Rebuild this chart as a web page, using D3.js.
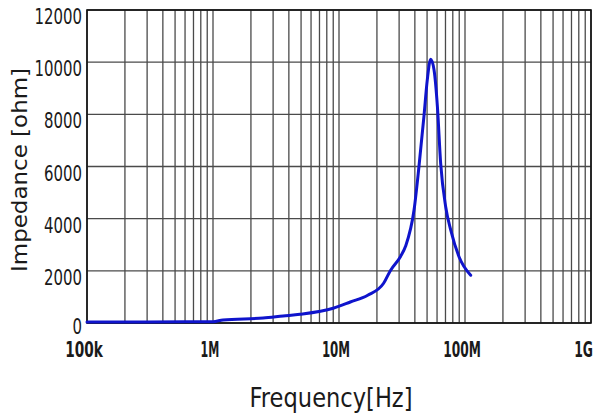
<!DOCTYPE html>
<html>
<head>
<meta charset="utf-8">
<script src="https://cdn.jsdelivr.net/npm/d3@7"></script>
<style>
  body { margin: 0; background: #fff; }
  svg { display: block; }
  .lbl { font-family: "DejaVu Sans", sans-serif; fill: #1a1a1a; }
</style>
</head>
<body>
<div id="chart"></div>
<script>
// frequency in Hz, impedance in ohm
const freqHz = [1e5, 3e5, 6e5, 1.0e6, 1.2e6, 2.5e6, 3.6e6, 4.9e6, 9.0e6, 12.3e6, 16.9e6, 22.6e6,
  25.7e6, 30.8e6, 33.8e6, 39.4e6, 43.1e6, 47.2e6, 50.2e6, 53.4e6, 56.8e6, 60.4e6, 64.1e6,
  70.3e6, 77.1e6, 89.8e6, 111e6];
const impedance = [40, 40, 45, 50, 115, 190, 270, 335, 565, 805, 1065, 1525,
  2025, 2550, 2950, 4330, 5990, 7910, 9320, 10115, 9700, 8290, 6120,
  4450, 3560, 2530, 1830];

const xTicks = [1e5, 1e6, 1e7, 1e8, 1e9];
const xTickLabels = ["100k", "1M", "10M", "100M", "1G"];
const yTicks = [0, 2000, 4000, 6000, 8000, 10000, 12000];

const width = 597, height = 414;
const margin = { top: 10, right: 6, bottom: 91, left: 87 };
const iw = width - margin.left - margin.right;
const ih = height - margin.top - margin.bottom;

const svg = d3.select("#chart").append("svg")
  .attr("width", width)
  .attr("height", height);

const g = svg.append("g")
  .attr("transform", `translate(${margin.left},${margin.top})`);

const x = d3.scaleLog().domain([1e5, 1e9]).range([0, iw]);
const y = d3.scaleLinear().domain([0, 12000]).range([ih, 0]);

// vertical grid: 1..9 in every decade
const xGrid = [];
for (let e = 5; e < 9; e++) for (let m = 1; m < 10; m++) xGrid.push(m * Math.pow(10, e));
xGrid.push(1e9);

g.append("g").selectAll("line")
  .data(xGrid)
  .join("line")
  .attr("x1", d => x(d)).attr("x2", d => x(d))
  .attr("y1", 0).attr("y2", ih)
  .attr("stroke", "#4a4a4a")
  .attr("stroke-width", 1.3);

g.append("g").selectAll("line")
  .data(yTicks)
  .join("line")
  .attr("x1", 0).attr("x2", iw)
  .attr("y1", d => y(d)).attr("y2", d => y(d))
  .attr("stroke", "#4a4a4a")
  .attr("stroke-width", 1.3);

g.append("rect")
  .attr("width", iw).attr("height", ih)
  .attr("fill", "none")
  .attr("stroke", "#111")
  .attr("stroke-width", 1.6);

// impedance curve
g.append("path")
  .datum(freqHz.map((f, i) => [f, impedance[i]]))
  .attr("fill", "none")
  .attr("stroke", "#0f14cc")
  .attr("stroke-width", 3)
  .attr("stroke-linejoin", "round")
  .attr("stroke-linecap", "round")
  .attr("d", d3.line().x(d => x(d[0])).y(d => y(d[1])).curve(d3.curveMonotoneX));

// y tick labels (narrow digits)
g.append("g").selectAll("text")
  .data(yTicks)
  .join("text")
  .attr("class", "lbl")
  .attr("x", -5)
  .attr("y", d => y(d) + (d === 0 ? 11 : 14))
  .attr("text-anchor", "end")
  .attr("textLength", d => String(d).length * 9.5)
  .attr("lengthAdjust", "spacingAndGlyphs")
  .style("font-size", "22px")
  .text(d => d);

// x tick labels; the last one is pinned to the right edge
g.append("g").selectAll("text")
  .data(xTicks)
  .join("text")
  .attr("class", "lbl")
  .attr("x", d => d === 1e9 ? iw + 2 : x(d) - 3)
  .attr("y", ih + 34)
  .attr("text-anchor", d => d === 1e9 ? "end" : "middle")
  .attr("textLength", (d, i) => xTickLabels[i].length * 9.4)
  .attr("lengthAdjust", "spacingAndGlyphs")
  .style("font-size", "21px")
  .style("font-weight", "bold")
  .text((d, i) => xTickLabels[i]);

// axis titles
svg.append("text")
  .attr("class", "lbl")
  .attr("transform", `translate(27,${margin.top + 160}) rotate(-90)`)
  .attr("text-anchor", "middle")
  .attr("textLength", 204)
  .attr("lengthAdjust", "spacingAndGlyphs")
  .style("font-size", "22px")
  .text("Impedance [ohm]");

svg.append("text")
  .attr("class", "lbl")
  .attr("x", 331)
  .attr("y", 407)
  .attr("text-anchor", "middle")
  .attr("textLength", 163)
  .attr("lengthAdjust", "spacingAndGlyphs")
  .style("font-size", "27px")
  .text("Frequency[Hz]");
</script>
</body>
</html>
